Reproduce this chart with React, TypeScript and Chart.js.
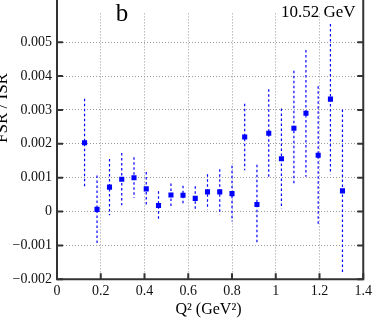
import { useEffect, useRef } from 'react';
import { Chart, registerables } from 'chart.js';

Chart.register(...registerables);

// Data
const q2 = [0.126, 0.183, 0.240, 0.296, 0.352, 0.408, 0.464, 0.521, 0.576, 0.632, 0.688, 0.744, 0.800, 0.858, 0.914, 0.968, 1.026, 1.083, 1.138, 1.194, 1.250, 1.305];
const ratio = [0.00203, 0.000065, 0.00072, 0.000955, 0.0010, 0.00067, 0.00018, 0.00049, 0.00048, 0.00039, 0.00058, 0.00058, 0.00053, 0.0022, 0.00021, 0.00231, 0.00156, 0.00246, 0.0029, 0.00166, 0.00332, 0.00061];
const ratioErr = [0.0013, 0.001, 0.00083, 0.00077, 0.0006, 0.0005, 0.00042, 0.00034, 0.00028, 0.00036, 0.00052, 0.00067, 0.00082, 0.00098, 0.00117, 0.0013, 0.00148, 0.0017, 0.00187, 0.00204, 0.00222, 0.0024];

const xTicks = [0, 0.2, 0.4, 0.6, 0.8, 1.0, 1.2, 1.4];
const xTickLabels = ['0', '0.2', '0.4', '0.6', '0.8', '1', '1.2', '1.4'];
const yTicks = [-0.002, -0.001, 0, 0.001, 0.002, 0.003, 0.004, 0.005];
const yTickLabels = ['\u22120.002', '\u22120.001', '0', '0.001', '0.002', '0.003', '0.004', '0.005'];

const panelLabel = 'b';
const energyLabel = '10.52 GeV';
const xTitle = 'Q\u00B2 (GeV\u00B2)';
const yTitle = 'FSR / ISR';

const SERIF = "'Liberation Serif', 'Times New Roman', serif";
const BLUE = '#0000ff';
const FRAME = '#333333';

const errorBarsPlugin = {
  id: 'errorBars',
  beforeDatasetsDraw(chart: any) {
    const { ctx, chartArea, scales } = chart;
    const x = scales.x;
    const y = scales.y;
    ctx.save();
    ctx.beginPath();
    ctx.rect(chartArea.left, chartArea.top, chartArea.right - chartArea.left, chartArea.bottom - chartArea.top);
    ctx.clip();
    ctx.strokeStyle = BLUE;
    ctx.lineWidth = 1.2;
    ctx.setLineDash([2.5, 2.5]);
    q2.forEach((q, i) => {
      const px = x.getPixelForValue(q);
      ctx.beginPath();
      ctx.moveTo(px, y.getPixelForValue(ratio[i] + ratioErr[i]));
      ctx.lineTo(px, y.getPixelForValue(ratio[i] - ratioErr[i]));
      ctx.stroke();
    });
    ctx.restore();
  },
};

const framePlugin = {
  id: 'frame',
  afterDraw(chart: any) {
    const { ctx, chartArea, scales } = chart;
    const x = scales.x;
    const y = scales.y;
    const { left, right, bottom } = chartArea;
    ctx.save();
    ctx.strokeStyle = FRAME;
    ctx.lineWidth = 2;
    ctx.setLineDash([]);
    ctx.beginPath();
    ctx.moveTo(left, 0);
    ctx.lineTo(left, bottom);
    ctx.lineTo(right, bottom);
    ctx.lineTo(right, 0);
    ctx.stroke();
    const tl = 6;
    ctx.beginPath();
    yTicks.forEach((v) => {
      const py = y.getPixelForValue(v);
      ctx.moveTo(left, py);
      ctx.lineTo(left + tl, py);
      ctx.moveTo(right, py);
      ctx.lineTo(right - tl, py);
    });
    xTicks.forEach((v) => {
      const px = x.getPixelForValue(v);
      ctx.moveTo(px, bottom);
      ctx.lineTo(px, bottom - tl);
    });
    ctx.stroke();

    // texts
    ctx.fillStyle = '#000';
    ctx.textBaseline = 'alphabetic';
    ctx.font = `25px ${SERIF}`;
    ctx.textAlign = 'center';
    ctx.fillText(panelLabel, 122, 21);

    ctx.font = `17px ${SERIF}`;
    ctx.textAlign = 'left';
    ctx.fillText(energyLabel, 281, 17.3);

    ctx.font = `16px ${SERIF}`;
    ctx.textAlign = 'center';
    ctx.fillText(xTitle, 208.5, 313.5);

    ctx.save();
    ctx.translate(7, 108);
    ctx.rotate(-Math.PI / 2);
    ctx.font = `17px ${SERIF}`;
    ctx.textAlign = 'center';
    ctx.fillText(yTitle, 0, 0);
    ctx.restore();

    ctx.restore();
  },
};

export default function App() {
  const canvasRef = useRef<HTMLCanvasElement | null>(null);

  useEffect(() => {
    const canvas = canvasRef.current;
    if (!canvas) return;
    const chart = new Chart(canvas, {
      type: 'scatter',
      data: {
        datasets: [
          {
            data: q2.map((q, i) => ({ x: q, y: ratio[i] })),
            pointStyle: 'rect',
            pointRadius: 3.6,
            pointHoverRadius: 3.6,
            backgroundColor: BLUE,
            borderColor: BLUE,
            borderWidth: 0,
            showLine: false,
          },
        ],
      },
      options: {
        animation: false,
        responsive: false,
        devicePixelRatio: 1,
        layout: { padding: { top: 0, right: 10.7, left: 0, bottom: 0 } },
        plugins: {
          legend: { display: false },
          tooltip: { enabled: false },
          title: { display: false },
        },
        scales: {
          x: {
            type: 'linear',
            min: 0,
            max: 1.4,
            afterBuildTicks: (s: any) => {
              s.ticks = xTicks.map((v) => ({ value: v }));
            },
            afterFit: (s: any) => {
              s.height = 47.7;
            },
            grid: { color: '#9a9a9a', lineWidth: 1, drawTicks: false },
            border: { display: false, dash: [1, 2] },
            ticks: {
              padding: 4,
              color: '#111',
              font: { family: SERIF, size: 14 },
              maxRotation: 0,
              autoSkip: false,
              callback: (_v: any, i: number) => xTickLabels[i],
            },
          },
          y: {
            type: 'linear',
            min: -0.002,
            max: 0.00585,
            afterBuildTicks: (s: any) => {
              s.ticks = yTicks.map((v) => ({ value: v }));
            },
            afterFit: (s: any) => {
              s.width = 57;
            },
            grid: { color: '#9a9a9a', lineWidth: 1, drawTicks: false },
            border: { display: false, dash: [1, 2] },
            ticks: {
              padding: 5,
              color: '#111',
              font: { family: SERIF, size: 14 },
              autoSkip: false,
              callback: (_v: any, i: number) => yTickLabels[i],
            },
          },
        },
      },
      plugins: [errorBarsPlugin, framePlugin],
    });
    return () => chart.destroy();
  }, []);

  return (
    <div style={{ position: 'absolute', left: 0, top: 0, width: 376, height: 327, background: '#fff' }}>
      <canvas ref={canvasRef} width={376} height={327} style={{ width: 376, height: 327, display: 'block' }} />
    </div>
  );
}
